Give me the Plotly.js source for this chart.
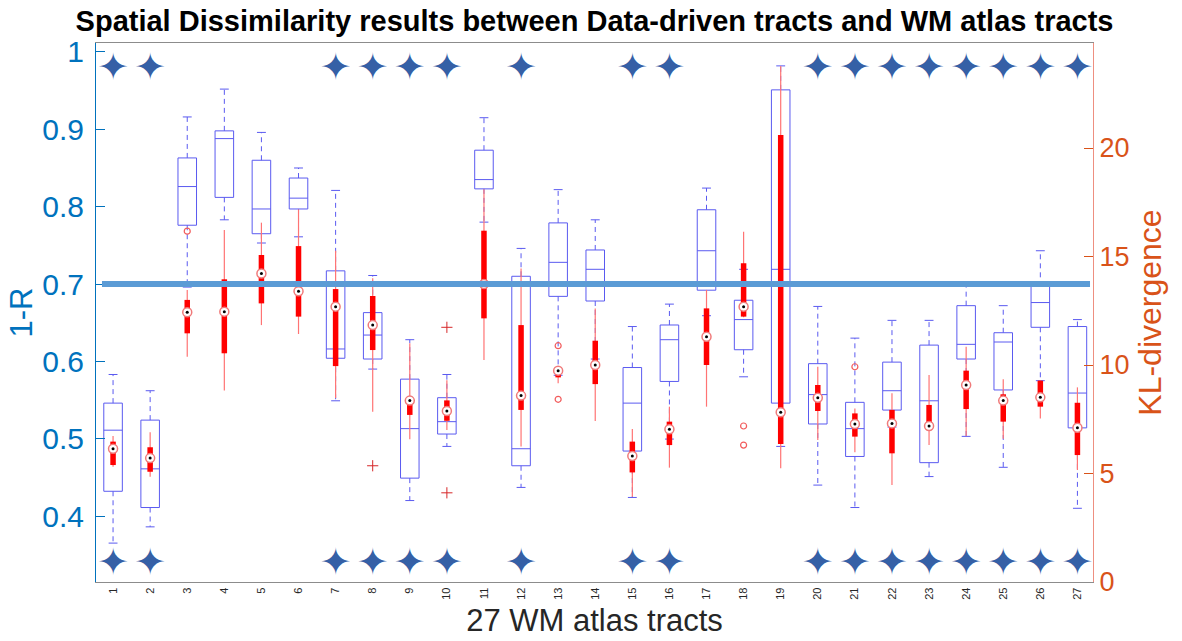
<!DOCTYPE html>
<html>
<head>
<meta charset="utf-8">
<script src="https://cdn.plot.ly/plotly-3.0.1.min.js"></script>
<style>
  html, body { margin: 0; padding: 0; background: #ffffff; }
  #chart { width: 1182px; height: 641px; }
</style>
</head>
<body>
<div id="chart"></div>
<script>
// 27 WM atlas tracts
const tracts = [1, 2, 3, 4, 5, 6, 7, 8, 9, 10, 11, 12, 13, 14, 15, 16, 17, 18, 19, 20, 21, 22, 23, 24, 25, 26, 27];
const tractLabels = tracts.map(String);

// 1-R (left axis): whisker ends, quartiles, medians
const rLow  = [0.365, 0.386, 0.696, 0.783, 0.753, 0.761, 0.549, 0.590, 0.420, 0.490, 0.780, 0.437, 0.582, 0.603, 0.424, 0.4995, 0.659, 0.580, 0.490, 0.440, 0.411, 0.515, 0.451, 0.503, 0.463, 0.575, 0.410];
const rQ1   = [0.432, 0.411, 0.776, 0.812, 0.765, 0.797, 0.604, 0.603, 0.449, 0.506, 0.823, 0.465, 0.684, 0.678, 0.484, 0.574, 0.692, 0.615, 0.546, 0.519, 0.477, 0.537, 0.469, 0.603, 0.563, 0.644, 0.514];
const rMed  = [0.511, 0.461, 0.826, 0.888, 0.797, 0.811, 0.616, 0.634, 0.513, 0.522, 0.835, 0.487, 0.728, 0.719, 0.546, 0.628, 0.743, 0.654, 0.719, 0.557, 0.513, 0.562, 0.549, 0.622, 0.625, 0.676, 0.559];
const rQ3   = [0.546, 0.524, 0.863, 0.898, 0.860, 0.837, 0.717, 0.663, 0.577, 0.553, 0.873, 0.710, 0.779, 0.744, 0.592, 0.647, 0.796, 0.679, 0.951, 0.597, 0.547, 0.599, 0.621, 0.672, 0.637, 0.697, 0.645];
const rHigh = [0.583, 0.562, 0.916, 0.952, 0.896, 0.850, 0.821, 0.711, 0.628, 0.583, 0.915, 0.746, 0.822, 0.783, 0.645, 0.674, 0.824, 0.719, 0.982, 0.671, 0.630, 0.653, 0.653, 0.703, 0.672, 0.743, 0.654];
const rOutTract = [8, 10, 10];
const rOutValue = [0.465, 0.430, 0.644];

// KL-divergence (right axis): whisker ends, quartiles, medians
const klLow  = [5.31, 4.85, 10.38, 8.82, 11.84, 11.43, 8.48, 7.85, 6.58, 7.00, 10.23, 6.24, 9.16, 7.42, 3.93, 5.27, 8.08, 12.20, 5.24, 6.54, 5.98, 4.47, 6.31, 6.73, 6.60, 7.54, 5.16];
const klQ1   = [5.39, 5.08, 11.46, 10.54, 12.84, 12.23, 9.95, 10.69, 7.70, 7.43, 12.15, 7.93, 9.43, 9.12, 5.05, 6.31, 10.00, 12.23, 6.36, 7.88, 6.70, 5.93, 7.00, 7.97, 7.39, 8.08, 5.85];
const klMed  = [6.14, 5.71, 12.43, 12.46, 14.22, 13.40, 12.69, 11.84, 8.36, 7.88, 13.73, 8.59, 9.74, 10.00, 5.81, 7.04, 11.30, 12.69, 7.82, 8.49, 7.28, 7.31, 7.19, 9.08, 8.36, 8.51, 7.11];
const klQ3   = [6.47, 6.21, 13.00, 13.95, 15.07, 15.48, 13.50, 13.18, 8.54, 8.37, 16.19, 11.84, 9.80, 11.12, 6.47, 7.39, 12.61, 14.69, 20.60, 9.08, 7.77, 7.93, 8.16, 9.74, 8.65, 9.28, 8.26];
const klHigh = [6.73, 6.90, 13.46, 16.22, 16.56, 17.17, 15.27, 14.00, 11.00, 9.30, 18.10, 14.45, 9.85, 12.61, 7.05, 8.08, 13.46, 16.14, 23.78, 9.92, 8.00, 8.70, 9.54, 10.84, 9.34, 9.30, 8.97];
const klOutTract = [3, 13, 13, 18, 18, 21];
const klOutValue = [16.17, 10.89, 8.42, 7.19, 6.31, 9.92];

// Tracts marked with a star, and the marker rows they sit on (left-axis units)
const starTracts = [1, 2, 7, 8, 9, 10, 12, 15, 16, 20, 21, 22, 23, 24, 25, 26, 27];
const starRows = [0.9756, 0.3355];

// Reference level on the 1-R axis
const threshold = 0.7;

// ---- styling ----
const BLUE = '#5A5AF0';
const RED = '#FF0000';
const RED_THIN = '#FF7474';
const LEFT_COLOR = '#0072BD';
const RIGHT_COLOR = '#D95319';
const FONT = 'Liberation Sans, Arial, Helvetica, sans-serif';
const capHalf = 0.12;

// dashed whiskers and solid caps for the 1-R boxes
const whiskX = [], whiskY = [], capX = [], capY = [];
tracts.forEach((c, i) => {
  whiskX.push(c, c, null, c, c, null);
  whiskY.push(rQ3[i], rHigh[i], null, rQ1[i], rLow[i], null);
  capX.push(c - capHalf, c + capHalf, null, c - capHalf, c + capHalf, null);
  capY.push(rHigh[i], rHigh[i], null, rLow[i], rLow[i], null);
});

// compact KL boxes: thin whisker span and thick interquartile bar
const klThinX = [], klThinY = [], klBarX = [], klBarY = [];
tracts.forEach((c, i) => {
  klThinX.push(c, c, null);
  klThinY.push(klLow[i], klHigh[i], null);
  klBarX.push(c, c, null);
  klBarY.push(klQ1[i], klQ3[i], null);
});

const starX = [], starY = [];
starRows.forEach(row => starTracts.forEach(t => { starX.push(t); starY.push(row); }));

const traces = [
  {
    type: 'box', x: tracts, q1: rQ1, median: rMed, q3: rQ3,
    lowerfence: rQ1, upperfence: rQ3,
    width: 0.5, whiskerwidth: 0, boxpoints: false,
    line: { color: BLUE, width: 1 }, fillcolor: 'rgba(0,0,0,0)',
    xaxis: 'x', yaxis: 'y', hoverinfo: 'skip'
  },
  {
    type: 'scatter', mode: 'lines', x: whiskX, y: whiskY,
    line: { color: BLUE, width: 1, dash: '5px,4px' },
    xaxis: 'x', yaxis: 'y', hoverinfo: 'skip', connectgaps: false
  },
  {
    type: 'scatter', mode: 'lines', x: capX, y: capY,
    line: { color: BLUE, width: 1 },
    xaxis: 'x', yaxis: 'y', hoverinfo: 'skip', connectgaps: false
  },
  {
    type: 'scatter', mode: 'markers', x: rOutTract, y: rOutValue,
    marker: { symbol: 'cross-thin-open', size: 8, line: { color: RED, width: 1 } },
    xaxis: 'x', yaxis: 'y', hoverinfo: 'skip'
  },
  {
    // four-pointed star glyphs
    type: 'scatter', mode: 'text', x: starX, y: starY,
    text: starX.map(() => '\u2726'), textposition: 'middle center',
    textfont: { family: 'DejaVu Sans', size: 38, color: '#3560A6' },
    xaxis: 'x', yaxis: 'y', hoverinfo: 'skip'
  },
  {
    type: 'scatter', mode: 'lines', x: klThinX, y: klThinY,
    line: { color: RED_THIN, width: 1.2 },
    xaxis: 'x', yaxis: 'y2', hoverinfo: 'skip', connectgaps: false
  },
  {
    type: 'scatter', mode: 'lines', x: klBarX, y: klBarY,
    line: { color: RED, width: 5.5 },
    xaxis: 'x', yaxis: 'y2', hoverinfo: 'skip', connectgaps: false
  },
  {
    type: 'scatter', mode: 'markers', x: klOutTract, y: klOutValue,
    marker: { symbol: 'circle-open', size: 6, color: '#F25C5C', line: { width: 1.2 } },
    xaxis: 'x', yaxis: 'y2', hoverinfo: 'skip'
  },
  {
    type: 'scatter', mode: 'markers', x: tracts, y: klMed,
    marker: { symbol: 'circle', size: 9, color: '#ffffff', line: { color: '#F07A7A', width: 1.5 } },
    xaxis: 'x', yaxis: 'y2', hoverinfo: 'skip'
  },
  {
    type: 'scatter', mode: 'markers', x: tracts, y: klMed,
    marker: { symbol: 'circle', size: 3, color: '#000000' },
    xaxis: 'x', yaxis: 'y2', hoverinfo: 'skip'
  }
];

const layout = {
  width: 1182, height: 641,
  margin: { l: 96, r: 89, t: 43, b: 59 },
  paper_bgcolor: '#ffffff', plot_bgcolor: '#ffffff',
  showlegend: false, hovermode: false, boxmode: 'overlay',
  font: { family: FONT },
  title: {
    text: '<b>Spatial Dissimilarity results between Data-driven tracts and WM atlas tracts</b>',
    font: { family: FONT, size: 29, color: '#000000' },
    x: 0.503, xanchor: 'center', y: 0.968, yanchor: 'middle'
  },
  xaxis: {
    range: [0.54, 27.42],
    tickmode: 'array', tickvals: tracts, ticktext: tractLabels,
    tickangle: -90, ticks: '', tickfont: { size: 11, color: '#262626', family: FONT },
    showgrid: false, zeroline: false,
    showline: true, mirror: true, linecolor: '#8C8C8C', linewidth: 1.2,
    title: { text: '27 WM atlas tracts', font: { size: 31, color: '#262626', family: FONT }, standoff: 10 }
  },
  yaxis: {
    range: [0.3147, 1.0116],
    tickmode: 'array', tickvals: [0.4, 0.5, 0.6, 0.7, 0.8, 0.9, 1], ticktext: ['0.4', '0.5', '0.6', '0.7', '0.8', '0.9', '1'],
    ticks: 'inside', ticklen: 9, tickcolor: LEFT_COLOR, tickwidth: 1,
    tickfont: { size: 30, color: LEFT_COLOR, family: FONT },
    ticklabelstandoff: 5,
    showgrid: false, zeroline: false,
    showline: true, linecolor: LEFT_COLOR, linewidth: 1,
    title: { text: '1-R', font: { size: 31, color: LEFT_COLOR, family: FONT }, standoff: 0 }
  },
  yaxis2: {
    overlaying: 'y', side: 'right',
    range: [0, 24.84],
    tickmode: 'array', tickvals: [0, 5, 10, 15, 20], ticktext: ['0', '5', '10', '15', '20'],
    ticks: 'inside', ticklen: 9, tickcolor: RIGHT_COLOR, tickwidth: 1,
    tickfont: { size: 27, color: RIGHT_COLOR, family: FONT },
    showgrid: false, zeroline: false,
    showline: true, linecolor: '#EE8F80', linewidth: 1,
    title: { text: 'KL-divergence', font: { size: 32, color: RIGHT_COLOR, family: FONT }, standoff: 10 }
  },
  shapes: [
    {
      type: 'line', layer: 'above', xref: 'paper', yref: 'y',
      x0: 0.006, x1: 0.997, y0: threshold, y1: threshold,
      line: { color: '#5B9BD5', width: 6 }
    }
  ]
};

Plotly.newPlot('chart', traces, layout, { staticPlot: true, displayModeBar: false });
</script>
</body>
</html>
